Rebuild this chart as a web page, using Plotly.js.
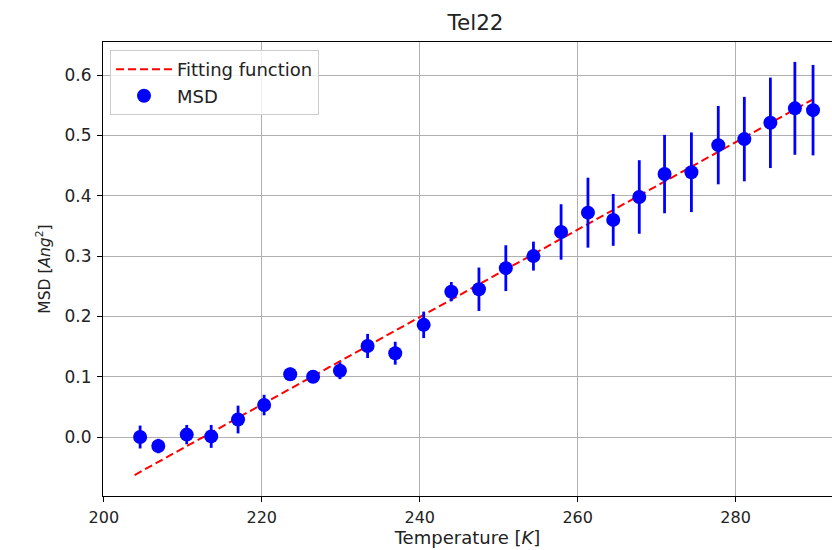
<!DOCTYPE html>
<html>
<head>
<meta charset="utf-8">
<script src="https://cdn.plot.ly/plotly-3.0.1.min.js"></script>
<style>html,body{margin:0;padding:0;background:#fff;}#chart{width:832px;height:550px;}</style>
</head>
<body>
<div id="chart"></div>
<script>
// Temperatures [K]
const temperature = [204.6, 206.9, 210.5, 213.6, 217.0, 220.3, 223.6, 226.5, 229.9, 233.4, 236.9, 240.5, 244.0, 247.5, 250.9, 254.4, 257.9, 261.3, 264.5, 267.8, 271.0, 274.4, 277.8, 281.1, 284.4, 287.5, 289.8];
// MSD values [Ang^2]
const msd = [0.000, -0.015, 0.004, 0.001, 0.029, 0.053, 0.104, 0.100, 0.110, 0.151, 0.139, 0.186, 0.241, 0.245, 0.280, 0.300, 0.340, 0.372, 0.360, 0.398, 0.436, 0.439, 0.484, 0.494, 0.521, 0.545, 0.542];
// Error bars
const msdErr = [0.019, 0.012, 0.016, 0.019, 0.023, 0.017, 0.011, 0.006, 0.014, 0.020, 0.019, 0.022, 0.016, 0.036, 0.038, 0.024, 0.046, 0.058, 0.043, 0.061, 0.065, 0.066, 0.065, 0.070, 0.075, 0.077, 0.075];
// Fitting function end points
const fitX = [203.9, 289.8];
const fitY = [-0.063, 0.560];

const xTicks = [200, 220, 240, 260, 280];
const yTicks = [0.0, 0.1, 0.2, 0.3, 0.4, 0.5, 0.6];

const font = "DejaVu Sans, sans-serif";

const traces = [
  {
    x: fitX, y: fitY, type: 'scatter', mode: 'lines', name: 'Fitting function',
    line: {color: '#ff0000', width: 2, dash: '8px,4px'}
  },
  {
    x: temperature, y: msd, type: 'scatter', mode: 'markers', name: 'MSD',
    marker: {color: '#0000ff', size: 14, symbol: 'circle'},
    error_y: {type: 'data', array: msdErr, visible: true, color: '#0000ff', thickness: 2.8, width: 0}
  }
];

const layout = {
  width: 832, height: 550,
  margin: {l: 103, r: 0, t: 42, b: 54},
  paper_bgcolor: '#fff', plot_bgcolor: '#fff',
  font: {family: font, size: 16, color: '#222'},
  title: {text: 'Tel22', font: {family: font, size: 21.5, color: '#222'}, x: 0.511, xref: 'paper', xanchor: 'center', y: 0.96, yanchor: 'middle'},
  showlegend: true,
  legend: {
    x: 0.0096, y: 0.982, xanchor: 'left', yanchor: 'top',
    bgcolor: 'rgba(255,255,255,0.8)', bordercolor: '#cccccc', borderwidth: 1,
    font: {family: font, size: 18, color: '#222'},
    tracegroupgap: 0, itemwidth: 56
  },
  xaxis: {
    range: [199.9, 292.2], tickvals: xTicks, ticktext: xTicks.map(String),
    showgrid: true, gridcolor: '#b0b0b0', gridwidth: 1,
    showline: true, linecolor: '#000', linewidth: 1, mirror: true,
    ticks: 'outside', ticklen: 5, tickcolor: '#000', tickwidth: 1,
    ticklabelstandoff: 2, automargin: false,
    zeroline: false,
    tickfont: {family: font, size: 16, color: '#222'},
    title: {text: 'Temperature [<i>K</i>]', font: {family: font, size: 18, color: '#222'}, standoff: 5}
  },
  yaxis: {
    range: [-0.0978, 0.655], tickvals: yTicks, ticktext: yTicks.map(v => v.toFixed(1)),
    showgrid: true, gridcolor: '#b0b0b0', gridwidth: 1,
    showline: true, linecolor: '#000', linewidth: 1, mirror: false,
    ticks: 'outside', ticklen: 5, tickcolor: '#000', tickwidth: 1,
    ticklabelstandoff: 2, automargin: false,
    zeroline: false,
    tickfont: {family: font, size: 17, color: '#222'},
    title: {text: 'MSD [<i>Ang</i><sup>2</sup>]', font: {family: font, size: 15.5, color: '#222'}, standoff: 10}
  }
};

Plotly.newPlot('chart', traces, layout, {displayModeBar: false, responsive: false});
</script>
</body>
</html>
